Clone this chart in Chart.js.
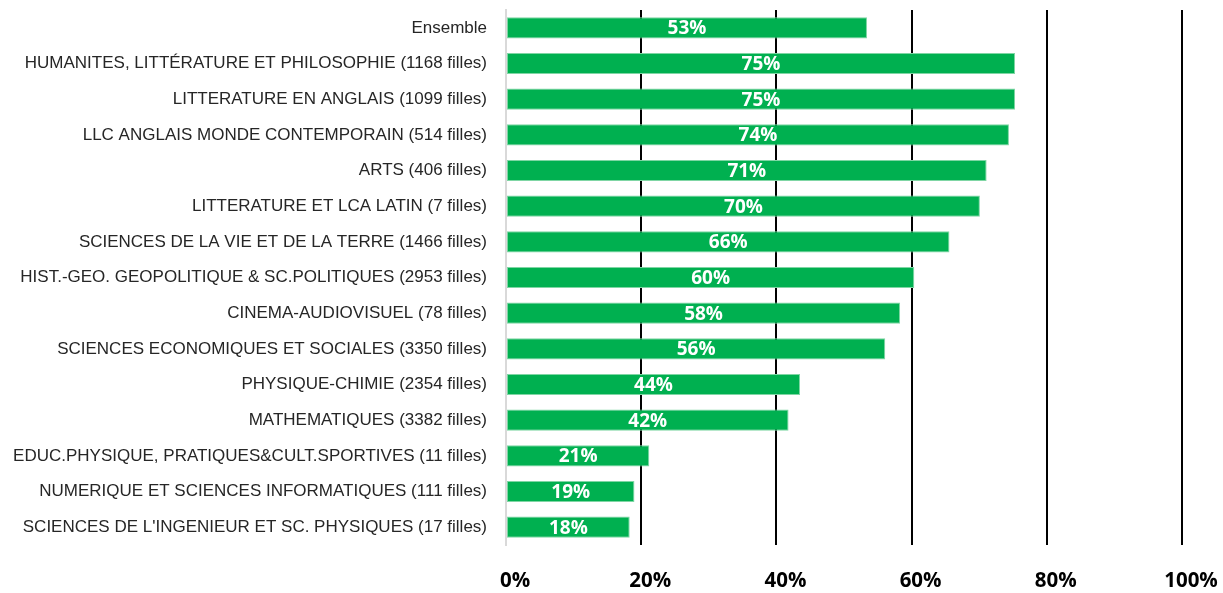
<!DOCTYPE html>
<html>
<head>
<meta charset="utf-8">
<script src="https://cdn.jsdelivr.net/npm/chart.js@4/dist/chart.umd.min.js"></script>
<style>
  html, body { margin:0; padding:0; background:#fff; overflow:hidden; }
  canvas { display:block; }
</style>
</head>
<body>
<canvas id="chart" width="1223" height="593"></canvas>
<script>
// parts des filles par spécialité (en %)
const LABELS = [
  'Ensemble',
  'HUMANITES, LITTÉRATURE ET PHILOSOPHIE (1168 filles)',
  'LITTERATURE EN ANGLAIS (1099 filles)',
  'LLC ANGLAIS MONDE CONTEMPORAIN (514 filles)',
  'ARTS (406 filles)',
  'LITTERATURE ET LCA LATIN (7 filles)',
  'SCIENCES DE LA VIE ET DE LA TERRE (1466 filles)',
  'HIST.-GEO. GEOPOLITIQUE & SC.POLITIQUES (2953 filles)',
  'CINEMA-AUDIOVISUEL (78 filles)',
  'SCIENCES ECONOMIQUES ET SOCIALES (3350 filles)',
  'PHYSIQUE-CHIMIE (2354 filles)',
  'MATHEMATIQUES (3382 filles)',
  'EDUC.PHYSIQUE, PRATIQUES&CULT.SPORTIVES (11 filles)',
  'NUMERIQUE ET SCIENCES INFORMATIQUES (111 filles)',
  "SCIENCES DE L'INGENIEUR ET SC. PHYSIQUES (17 filles)"
];
const VALUES = [53.4, 75.3, 75.3, 74.4, 71.1, 70.1, 65.6, 60.4, 58.3, 56.1, 43.5, 41.8, 21.2, 19.0, 18.3];
const X_TICKS = [0, 20, 40, 60, 80, 100];

const GREEN = '#00B050';

// étiquettes blanches au centre des barres
const barLabels = {
  id: 'barLabels',
  afterDatasetsDraw(chart) {
    const ctx = chart.ctx;
    const meta = chart.getDatasetMeta(0);
    ctx.save();
    ctx.fillStyle = '#fff';
    ctx.font = 'bold 19px "Open Sans", sans-serif';
    ctx.textAlign = 'center';
    ctx.textBaseline = 'middle';
    meta.data.forEach((bar, i) => {
      const cx = (bar.x + bar.base) / 2;
      ctx.fillText(Math.round(VALUES[i]) + '%', cx, bar.y + 1);
    });
    ctx.restore();
  }
};

new Chart(document.getElementById('chart'), {
  type: 'bar',
  data: {
    labels: LABELS,
    datasets: [{
      data: VALUES,
      backgroundColor: GREEN,
      borderColor: '#7fd6a4',
      borderWidth: 1,
      borderSkipped: false,
      barPercentage: 0.66,
      categoryPercentage: 0.9
    }]
  },
  options: {
    indexAxis: 'y',
    responsive: false,
    animation: false,
    layout: { padding: { top: 10, right: 41, left: 0, bottom: 0 } },
    plugins: { legend: { display: false }, tooltip: { enabled: false } },
    scales: {
      x: {
        min: 0, max: 100,
        afterBuildTicks: scale => { scale.ticks = X_TICKS.map(v => ({ value: v })); },
        afterFit: scale => { scale.height = 48; scale.paddingLeft = 0; scale.paddingRight = 0; },
        border: { display: false },
        grid: {
          drawTicks: false,
          lineWidth: 2,
          color: c => c.tick && c.tick.value === 0 ? '#d9d9d9' : '#000'
        },
        ticks: {
          padding: 24,
          labelOffset: 9,
          maxRotation: 0,
          color: '#000',
          font: { family: '"Open Sans", sans-serif', size: 20.5, weight: 'bold' },
          callback: v => v + '%'
        }
      },
      y: {
        border: { display: true, color: '#d9d9d9', width: 2 },
        grid: { display: false, drawTicks: false },
        afterFit: scale => { scale.width = 506; scale.paddingTop = 0; scale.paddingBottom = 0; },
        ticks: {
          padding: 19,
          color: '#262626',
          font: { family: '"Liberation Sans", sans-serif', size: 17 }
        }
      }
    }
  },
  plugins: [barLabels]
});
</script>
</body>
</html>
